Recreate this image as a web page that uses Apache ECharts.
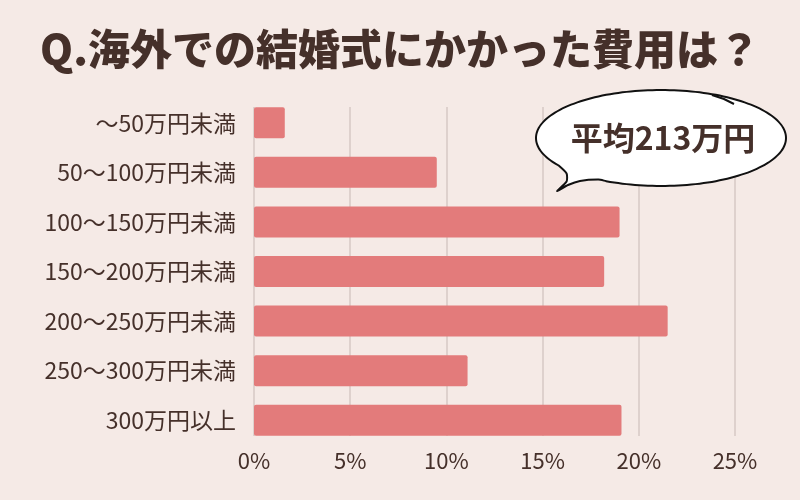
<!DOCTYPE html>
<html lang="ja">
<head>
<meta charset="UTF-8">
<title>海外での結婚式にかかった費用</title>
<style>
  html, body { margin: 0; padding: 0; background: #f5eae6; }
  #chart { width: 800px; height: 500px; }
</style>
</head>
<body>
<div id="chart"></div>
<script src="https://cdn.jsdelivr.net/npm/echarts@6/dist/echarts.min.js"></script>
<script>
  // 費用帯ごとの割合（%）
  const categories = ['～50万円未満', '50～100万円未満', '100～150万円未満', '150～200万円未満', '200～250万円未満', '250～300万円未満', '300万円以上'];
  const shares = [1.6, 9.5, 19.0, 18.2, 21.5, 11.1, 19.1];
  const axisTicks = [0, 5, 10, 15, 20, 25];
  const titleText = 'Q.海外での結婚式にかかった費用は？';
  const averageText = '平均213万円';

  const ink = '#45302a';
  const font = '"Noto Sans CJK JP", "Noto Sans", sans-serif';

  const chart = echarts.init(document.getElementById('chart'));

  // 吹き出しの輪郭（楕円＋しっぽ）
  function bubblePoints(cx, cy, rx, ry) {
    const pts = [];
    // 120° から反時計回りに 145° まで楕円をたどる
    for (let a = 120; a >= 145 - 360; a -= 4) {
      const t = a * Math.PI / 180;
      pts.push([cx + rx * Math.cos(t), cy + ry * Math.sin(t)]);
    }
    const t0 = 145 * Math.PI / 180;
    const sx = cx + rx * Math.cos(t0), sy = cy + ry * Math.sin(t0);
    // しっぽ
    pts.push([sx, sy], [sx + 8, sy + 8], [sx + 8, sy + 16], [557, 191], [568, 185], [580, 181]);
    return pts;
  }

  const option = {
    backgroundColor: '#f5eae6',
    title: {
      text: titleText,
      left: 'center',
      top: 23,
      textStyle: { color: ink, fontSize: 42, fontWeight: 900, fontFamily: font }
    },
    grid: [
      // bars
      { left: 254, right: 65, top: 98, height: 347 },
      // gridlines + % labels
      { left: 254, right: 65, top: 107, height: 329 }
    ],
    xAxis: [
      { gridIndex: 0, type: 'value', min: 0, max: axisTicks[axisTicks.length - 1], interval: 5, show: false },
      {
        gridIndex: 1, type: 'value', min: axisTicks[0], max: axisTicks[axisTicks.length - 1], interval: 5,
        axisLine: { show: false },
        axisTick: { show: false },
        axisLabel: { margin: 14, color: ink, fontSize: 22, fontFamily: font, formatter: '{value}%' },
        splitLine: { lineStyle: { color: '#d6c9c5', width: 1.5 } }
      }
    ],
    yAxis: [
      {
        gridIndex: 0, type: 'category', data: categories, inverse: true,
        axisLine: { show: false },
        axisTick: { show: false },
        axisLabel: { margin: 18, color: ink, fontSize: 23, fontFamily: font }
      },
      { gridIndex: 1, type: 'value', show: false }
    ],
    series: [{
      type: 'bar',
      xAxisIndex: 0,
      yAxisIndex: 0,
      data: shares,
      barWidth: 31,
      itemStyle: { color: '#e37b7b', borderRadius: 2 },
      silent: true
    }],
    graphic: [
      {
        type: 'polygon',
        shape: { points: bubblePoints(661, 138, 125, 48), smooth: 0.2 },
        style: { fill: '#ffffff', stroke: '#111111', lineWidth: 2 },
        z: 100
      },
      {
        type: 'polyline',
        shape: { points: [[712, 95], [724, 99], [734, 104]] },
        style: { stroke: '#111111', lineWidth: 2 },
        z: 101
      },
      {
        type: 'text',
        x: 663,
        y: 138,
        style: {
          text: averageText,
          fill: ink,
          fontSize: 32,
          fontWeight: 'bold',
          fontFamily: font,
          align: 'center',
          verticalAlign: 'middle'
        },
        z: 102
      }
    ]
  };

  chart.setOption(option);
</script>
</body>
</html>
